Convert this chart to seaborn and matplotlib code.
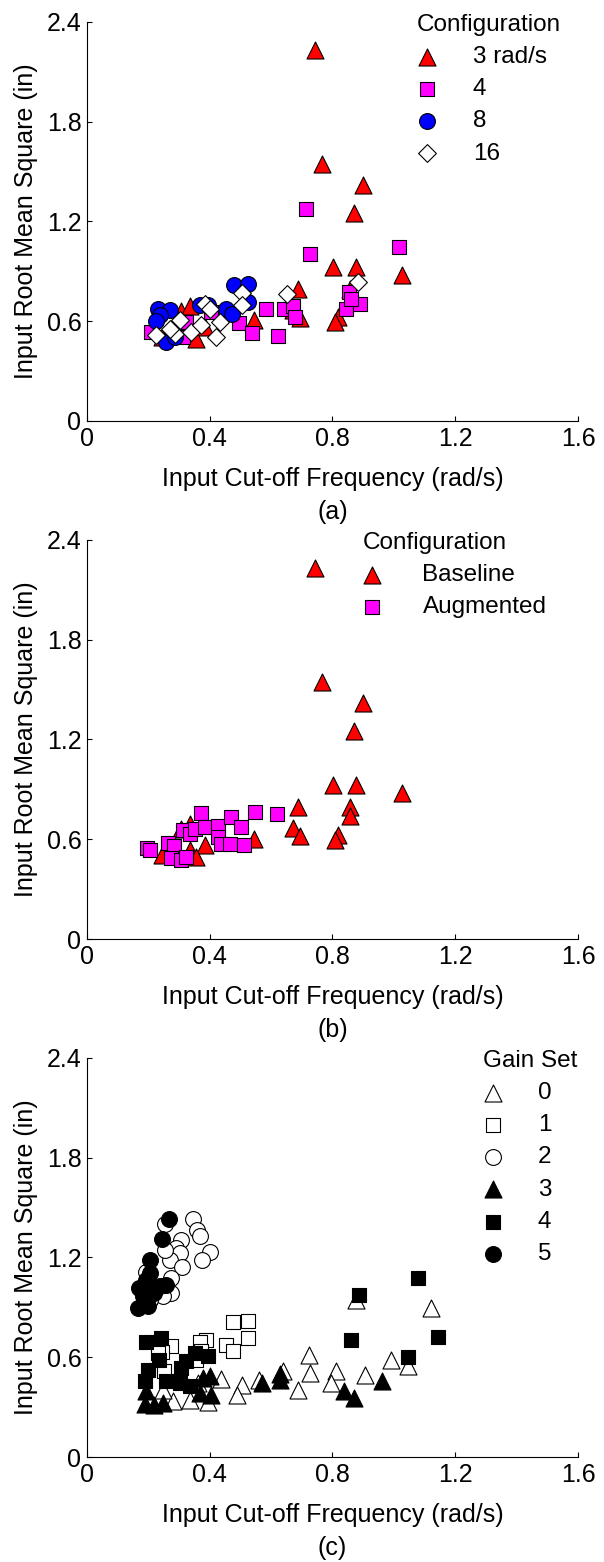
import numpy as np
import pandas as pd
import matplotlib
matplotlib.use("Agg")
import matplotlib.pyplot as plt
import seaborn as sns

# ---- data ----
# baseline / 3 rad/s (red triangles), shared by panels (a) and (b)
base_x = [0.742, 0.766, 0.900, 0.869, 0.802, 0.877, 1.025, 0.688, 0.858, 0.856, 0.670,
          0.693, 0.818, 0.807, 0.544, 0.383, 0.335, 0.354, 0.245, 0.307, 0.335, 0.291]
base_y = [2.230, 1.543, 1.421, 1.250, 0.925, 0.925, 0.879, 0.791, 0.795, 0.739, 0.665,
          0.618, 0.624, 0.594, 0.604, 0.564, 0.534, 0.494, 0.504, 0.664, 0.694, 0.536]

# panel (a): 4, 8, 16 rad/s
c4_x = [0.715, 0.726, 1.017, 0.854, 0.845, 0.889, 0.622, 0.582, 0.641, 0.671, 0.677,
        0.494, 0.538, 0.210, 0.313, 0.324, 0.405, 0.859]
c4_y = [1.275, 1.005, 1.045, 0.775, 0.675, 0.701, 0.508, 0.671, 0.675, 0.689, 0.625,
        0.588, 0.528, 0.534, 0.504, 0.594, 0.655, 0.735]
c8_x = [0.231, 0.272, 0.237, 0.224, 0.258, 0.286, 0.367, 0.394, 0.478, 0.525, 0.525,
        0.454, 0.473]
c8_y = [0.675, 0.665, 0.634, 0.600, 0.474, 0.504, 0.695, 0.695, 0.815, 0.825, 0.715,
        0.675, 0.641]
c16_x = [0.226, 0.286, 0.269, 0.340, 0.373, 0.422, 0.432, 0.383, 0.400, 0.505, 0.505,
         0.652, 0.883, 0.302]
c16_y = [0.514, 0.524, 0.554, 0.534, 0.574, 0.504, 0.594, 0.701, 0.675, 0.769, 0.695,
         0.761, 0.835, 0.604]

# panel (b): augmented
aug_x = [0.197, 0.206, 0.264, 0.284, 0.275, 0.307, 0.322, 0.313, 0.335, 0.351, 0.373,
         0.383, 0.427, 0.427, 0.438, 0.470, 0.465, 0.501, 0.512, 0.546, 0.619]
aug_y = [0.550, 0.538, 0.578, 0.558, 0.490, 0.474, 0.494, 0.654, 0.630, 0.664, 0.760,
         0.674, 0.678, 0.614, 0.570, 0.735, 0.570, 0.674, 0.564, 0.765, 0.749]

# panel (c): gain sets 0..5
g0_x = [0.876, 1.122, 0.723, 0.990, 1.047, 0.726, 0.810, 0.905, 0.796, 0.688, 0.639,
        0.561, 0.506, 0.489, 0.436, 0.362, 0.335, 0.394, 0.280, 0.248]
g0_y = [0.942, 0.896, 0.616, 0.586, 0.545, 0.505, 0.515, 0.495, 0.445, 0.401, 0.515,
        0.461, 0.435, 0.375, 0.469, 0.445, 0.345, 0.329, 0.335, 0.405]
g1_x = [0.476, 0.524, 0.524, 0.454, 0.476, 0.389, 0.368, 0.275, 0.243, 0.356, 0.250,
        0.230, 0.372]
g1_y = [0.810, 0.816, 0.716, 0.676, 0.636, 0.706, 0.690, 0.666, 0.632, 0.581, 0.515,
        0.626, 0.636]
g2_x = [0.345, 0.358, 0.367, 0.305, 0.400, 0.291, 0.304, 0.269, 0.309, 0.376, 0.253,
        0.253, 0.275, 0.275, 0.248, 0.206, 0.193]
g2_y = [1.428, 1.363, 1.327, 1.307, 1.233, 1.257, 1.227, 1.187, 1.141, 1.187, 1.247,
        1.398, 1.077, 0.986, 0.970, 0.946, 1.113]
g3_x = [0.569, 0.628, 0.630, 0.961, 0.837, 0.870, 0.400, 0.378, 0.405, 0.367, 0.188,
        0.220, 0.248, 0.193]
g3_y = [0.445, 0.465, 0.500, 0.455, 0.395, 0.355, 0.489, 0.475, 0.375, 0.385, 0.321,
        0.311, 0.325, 0.395]
g4_x = [1.080, 0.888, 1.145, 0.861, 1.046, 0.193, 0.241, 0.235, 0.199, 0.188, 0.259,
        0.302, 0.324, 0.307, 0.351, 0.394, 0.335]
g4_y = [1.077, 0.972, 0.720, 0.706, 0.601, 0.692, 0.716, 0.585, 0.525, 0.455, 0.455,
        0.445, 0.575, 0.535, 0.626, 0.606, 0.425]
g5_x = [0.267, 0.245, 0.206, 0.206, 0.169, 0.166, 0.199, 0.220, 0.238, 0.182, 0.193,
        0.259]
g5_y = [1.428, 1.311, 1.183, 1.107, 1.017, 0.896, 0.906, 0.986, 1.027, 0.966, 1.067,
        1.037]

x_ticks = [0, 0.4, 0.8, 1.2, 1.6]
x_tick_labels = ["0", "0.4", "0.8", "1.2", "1.6"]
y_ticks = [0, 0.6, 1.2, 1.8, 2.4]
y_tick_labels = ["0", "0.6", "1.2", "1.8", "2.4"]

sns.set_theme(style="ticks")
plt.rcParams["font.family"] = ["Liberation Sans", "DejaVu Sans"]
plt.rcParams["xtick.direction"] = "in"
plt.rcParams["ytick.direction"] = "in"
for key in ["text.color", "axes.labelcolor", "xtick.color", "ytick.color",
            "xtick.labelcolor", "ytick.labelcolor"]:
    plt.rcParams[key] = "black"

FS = 18
MARK = {"^": 150, "s": 90, "o": 130, "D": 82}

fig = plt.figure(figsize=(6.04, 15.62), dpi=100)
left, width = 0.1440, 0.8129
bottoms = [0.7305, 0.3988, 0.0672]
axes = [fig.add_axes([left, b, width, 0.2556]) for b in bottoms]


def draw(ax, series):
    for label, xs, ys, marker, face in series:
        df = pd.DataFrame({"x": xs, "y": ys})
        sns.scatterplot(data=df, x="x", y="y", ax=ax, marker=marker, s=MARK[marker],
                        color=face, edgecolor="black", linewidth=0.8, label=label)


def style(ax, caption, title, anchor_x, textpad):
    ax.set_xlim(0, 1.6)
    ax.set_ylim(0, 2.4)
    ax.set_xticks(x_ticks, x_tick_labels)
    ax.set_yticks(y_ticks, y_tick_labels)
    ax.tick_params(labelsize=FS, length=3.5, width=0.8, color="black",
                   labelcolor="black", pad=4)
    for side in ["top", "right"]:
        ax.spines[side].set_visible(False)
    for side in ["left", "bottom"]:
        ax.spines[side].set_color("black")
        ax.spines[side].set_linewidth(0.8)
    ax.set_xlabel("Input Cut-off Frequency (rad/s)", fontsize=FS, labelpad=12,
                  color="black")
    ax.set_ylabel("Input Root Mean Square (in)", fontsize=FS, labelpad=6,
                  color="black")
    ax.text(0.5, -0.2275, caption, transform=ax.transAxes, ha="center", va="center",
            fontsize=FS, color="black")
    leg = ax.legend(title=title, loc="upper left", bbox_to_anchor=(anchor_x, 1.02),
                    frameon=False, fontsize=17.5, title_fontsize=17.5,
                    alignment="left", borderpad=0, borderaxespad=0,
                    handlelength=0.82, handletextpad=textpad, labelspacing=0.42,
                    labelcolor="black")
    leg.get_title().set_color("black")
    return leg


draw(axes[0], [
    ("3 rad/s", base_x, base_y, "^", "#ff0000"),
    ("4", c4_x, c4_y, "s", "#ff00ff"),
    ("8", c8_x, c8_y, "o", "#0000ff"),
    ("16", c16_x, c16_y, "D", "white"),
])
style(axes[0], "(a)", "Configuration", 0.672, 1.48)

draw(axes[1], [
    ("Baseline", base_x, base_y, "^", "#ff0000"),
    ("Augmented", aug_x, aug_y, "s", "#ff00ff"),
])
style(axes[1], "(b)", "Configuration", 0.561, 1.65)

draw(axes[2], [
    ("0", g0_x, g0_y, "^", "white"),
    ("1", g1_x, g1_y, "s", "white"),
    ("2", g2_x, g2_y, "o", "white"),
    ("3", g3_x, g3_y, "^", "black"),
    ("4", g4_x, g4_y, "s", "black"),
    ("5", g5_x, g5_y, "o", "black"),
])
style(axes[2], "(c)", "Gain Set", 0.806, 1.45)

fig.savefig("out.png", dpi=100, facecolor="white")
